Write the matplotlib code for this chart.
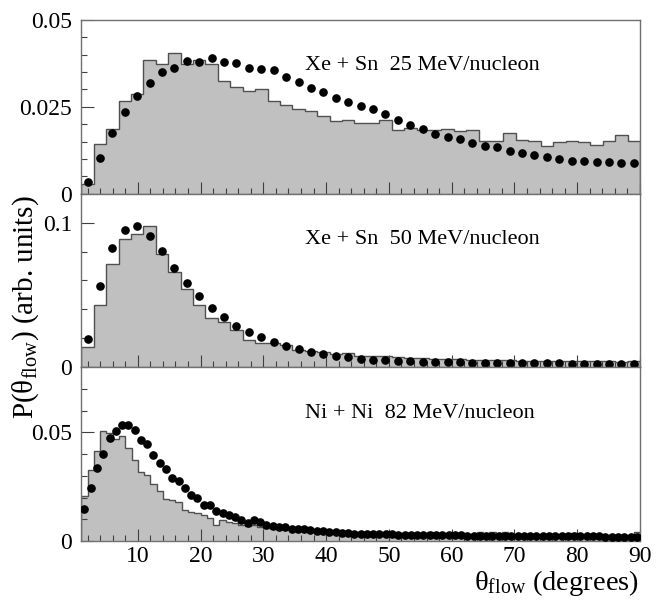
import numpy as np
import matplotlib
matplotlib.use("Agg")
import matplotlib.pyplot as plt
from matplotlib.ticker import MultipleLocator, FixedLocator

plt.rcParams['font.family'] = ['Liberation Serif', 'DejaVu Serif']
plt.rcParams['mathtext.fontset'] = 'custom'
plt.rcParams['mathtext.rm'] = 'Liberation Serif'
plt.rcParams['mathtext.it'] = 'Liberation Serif:italic'

# ---------------- data ----------------
x_range = (1.0, 90.0)

labels = ["Xe + Sn  25 MeV/nucleon", "Xe + Sn  50 MeV/nucleon", "Ni + Ni  82 MeV/nucleon"]

# Panel 1: 45 bins between 1 and 90 degrees
hist_25 = [0.0029, 0.0143, 0.0186, 0.0266, 0.0288, 0.0386, 0.0372, 0.0406, 0.0374, 0.0386,
           0.0374, 0.0324, 0.0307, 0.0297, 0.0300, 0.0268, 0.0256, 0.0244, 0.0239, 0.0225,
           0.0208, 0.0213, 0.0203, 0.0203, 0.0212, 0.0183, 0.0188, 0.0182, 0.0183, 0.0186,
           0.0180, 0.0183, 0.0151, 0.0153, 0.0174, 0.0154, 0.0153, 0.0138, 0.0148, 0.0151,
           0.0148, 0.0140, 0.0153, 0.0169, 0.0153]
dots_25 = [0.0035, 0.0104, 0.0174, 0.0235, 0.0282, 0.0320, 0.0350, 0.0363, 0.0381, 0.0379,
           0.0391, 0.0379, 0.0377, 0.0363, 0.0358, 0.0355, 0.0335, 0.0322, 0.0305, 0.0293,
           0.0275, 0.0263, 0.0251, 0.0243, 0.0230, 0.0212, 0.0199, 0.0186, 0.0172, 0.0162,
           0.0156, 0.0145, 0.0136, 0.0133, 0.0122, 0.0116, 0.0111, 0.0107, 0.0100, 0.0095,
           0.0093, 0.0092, 0.0092, 0.0089, 0.0088]

# Panel 2: 45 bins between 1 and 90 degrees
hist_50 = [0.0139, 0.0434, 0.0712, 0.0885, 0.0924, 0.0975, 0.0785, 0.0656, 0.0543, 0.0434,
           0.0340, 0.0312, 0.0259, 0.0189, 0.0171, 0.0166, 0.0157, 0.0120, 0.0111, 0.0109,
           0.0093, 0.0097, 0.0079, 0.0080, 0.0075, 0.0070, 0.0066, 0.0062, 0.0060, 0.0058,
           0.0055, 0.0052, 0.0050, 0.0052, 0.0048, 0.0045, 0.0047, 0.0044, 0.0043, 0.0045,
           0.0042, 0.0041, 0.0043, 0.0040, 0.0045]
dots_50 = [0.0196, 0.0561, 0.0827, 0.0952, 0.0975, 0.0906, 0.0804, 0.0684, 0.0582, 0.0490,
           0.0411, 0.0351, 0.0289, 0.0247, 0.0208, 0.0173, 0.0150, 0.0127, 0.0109, 0.0093,
           0.0081, 0.0072, 0.0058, 0.0052, 0.0048, 0.0045, 0.0042, 0.0040, 0.0038, 0.0036,
           0.0035, 0.0033, 0.0032, 0.0031, 0.0030, 0.0029, 0.0028, 0.0027, 0.0027, 0.0026,
           0.0025, 0.0025, 0.0024, 0.0024, 0.0023]

# Panel 3: 89 bins between 1 and 90 degrees
hist_82 = [0.0206, 0.0325, 0.0413, 0.0505, 0.0496, 0.0470, 0.0485, 0.0429, 0.0374, 0.0317,
           0.0302, 0.0264, 0.0230, 0.0195, 0.0191, 0.0180, 0.0142, 0.0134, 0.0127, 0.0119,
           0.0104, 0.0076, 0.0099, 0.0088, 0.0081, 0.0076, 0.0070, 0.0073, 0.0066, 0.0061,
           0.0058, 0.0056, 0.0055, 0.0053, 0.0052, 0.0050, 0.0049, 0.0048, 0.0046, 0.0045,
           0.0044, 0.0043, 0.0042, 0.0041, 0.0040, 0.0039, 0.0038, 0.0038, 0.0037, 0.0036,
           0.0036, 0.0035, 0.0035, 0.0034, 0.0034, 0.0042, 0.0033, 0.0033, 0.0032, 0.0032,
           0.0031, 0.0031, 0.0030, 0.0040, 0.0030, 0.0040, 0.0029, 0.0041, 0.0029, 0.0028,
           0.0028, 0.0028, 0.0027, 0.0027, 0.0027, 0.0026, 0.0026, 0.0026, 0.0038, 0.0026,
           0.0025, 0.0025, 0.0025, 0.0025, 0.0024, 0.0024, 0.0024, 0.0024, 0.0040]
dots_82 = [0.0146, 0.0244, 0.0336, 0.0400, 0.0473, 0.0509, 0.0534, 0.0535, 0.0512, 0.0467,
           0.0447, 0.0397, 0.0358, 0.0331, 0.0290, 0.0275, 0.0246, 0.0210, 0.0200, 0.0168,
           0.0165, 0.0139, 0.0130, 0.0122, 0.0111, 0.0099, 0.0084, 0.0099, 0.0088, 0.0076,
           0.0069, 0.0063, 0.0063, 0.0056, 0.0053, 0.0053, 0.0050, 0.0047, 0.0044, 0.0043,
           0.0041, 0.0035, 0.0035, 0.0032, 0.0032, 0.0032, 0.0031, 0.0031, 0.0030, 0.0030,
           0.0029, 0.0029, 0.0028, 0.0028, 0.0028, 0.0027, 0.0027, 0.0027, 0.0026, 0.0026,
           0.0026, 0.0025, 0.0025, 0.0025, 0.0025, 0.0024, 0.0024, 0.0024, 0.0024, 0.0023,
           0.0023, 0.0023, 0.0023, 0.0022, 0.0022, 0.0022, 0.0022, 0.0022, 0.0021, 0.0021,
           0.0021, 0.0021, 0.0021, 0.0020, 0.0020, 0.0020, 0.0020, 0.0020, 0.0020]

y_limits = [0.05, 0.12, 0.08]
y_major = [[0, 0.025, 0.05], [0, 0.1], [0, 0.05]]
y_major_labels = [["0", "0.025", "0.05"], ["0", "0.1"], ["0", "0.05"]]
y_minor_step = [0.005, 0.02, 0.01]
x_ticks = [10, 20, 30, 40, 50, 60, 70, 80, 90]

# ---------------- figure ----------------
fig = plt.figure(figsize=(6.57, 6.02), dpi=100)
left, right = 81.3 / 657, 640 / 657
top, bottom = 1 - 20 / 602, 1 - 541 / 602
h = (top - bottom) / 3

hists = [hist_25, hist_50, hist_82]
dots = [dots_25, dots_50, dots_82]
text_y = [65, 239, 413]

spine_col = '#707070'
for i in range(3):
    ax = fig.add_axes([left, top - (i + 1) * h, right - left, h])
    hv = np.array(hists[i])
    edges = np.linspace(x_range[0], x_range[1], len(hv) + 1)
    centers = 0.5 * (edges[:-1] + edges[1:])
    ax.stairs(hv, edges, fill=True, color='#c0c0c0', zorder=1)
    ax.stairs(hv, edges, fill=False, color='#505050', linewidth=1.0, zorder=2)
    ax.plot(centers, dots[i], 'o', color='black', markersize=5.2, zorder=3, linestyle='none')
    ax.set_xlim(*x_range)
    ax.set_ylim(0, y_limits[i])
    ax.yaxis.set_major_locator(FixedLocator(y_major[i]))
    ax.set_yticklabels(y_major_labels[i])
    ax.yaxis.set_minor_locator(MultipleLocator(y_minor_step[i]))
    ax.xaxis.set_major_locator(FixedLocator(x_ticks))
    ax.xaxis.set_minor_locator(MultipleLocator(2))
    ax.tick_params(which='both', direction='in', top=False, right=False, colors='#404040',
                   labelcolor='black', labelsize=17, width=0.8)
    ax.tick_params(which='major', length=9)
    ax.tick_params(which='minor', length=4.5)
    ax.tick_params(axis='y', pad=6.5)
    if i < 2:
        ax.tick_params(axis='x', labelbottom=False)
    else:
        ax.set_xticklabels([str(t) for t in x_ticks])
        ax.tick_params(axis='x', pad=3.5)
    for s in ax.spines.values():
        s.set_color(spine_col)
        s.set_linewidth(1.0)
    fig.text(305 / 657, 1 - text_y[i] / 602, labels[i], fontsize=16, ha='left', va='center')

fig.text(639 / 657, 1 - 590 / 602, 'θ$_{\\mathrm{flow}}$ (degrees)', fontsize=20.5,
         ha='right', va='baseline')
fig.text(26 / 657, 1 - 307 / 602, 'P(θ$_{\\mathrm{flow}}$) (arb. units)', fontsize=21,
         rotation=90, ha='center', va='center')

fig.savefig('out.png', dpi=100)
